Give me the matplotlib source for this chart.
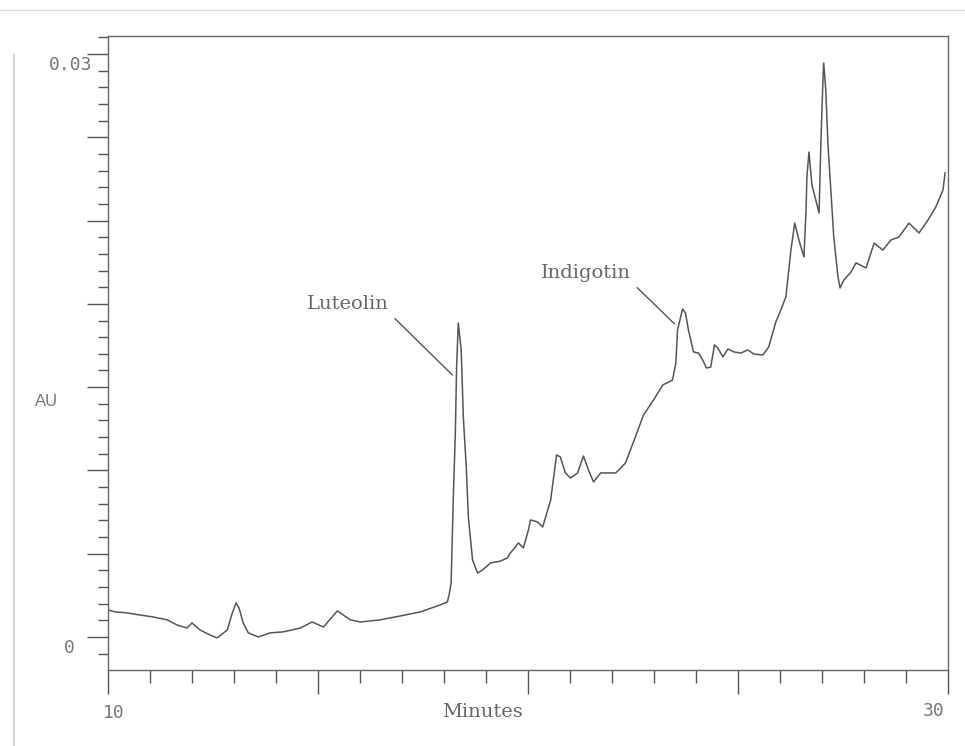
import numpy as np
import matplotlib
matplotlib.use("Agg")
import matplotlib.pyplot as plt
from matplotlib.lines import Line2D
from matplotlib.ticker import FixedLocator

# chromatogram trace (minutes, mAU)
minutes = [
    10.00, 10.17, 10.45, 10.76, 11.07, 11.41, 11.64, 11.88, 12.00, 12.19,
    12.43, 12.60, 12.84, 12.96, 13.05, 13.12, 13.22, 13.34, 13.58, 13.86,
    14.17, 14.58, 14.86, 15.13, 15.46, 15.77, 16.01, 16.48, 16.96, 17.44,
    17.91, 18.08, 18.12, 18.17, 18.22, 18.27, 18.30, 18.34, 18.41, 18.46,
    18.53, 18.58, 18.68, 18.80, 18.92, 19.11, 19.34, 19.51, 19.58, 19.70,
    19.77, 19.89, 20.01, 20.06, 20.23, 20.35, 20.54, 20.68, 20.77, 20.89,
    21.01, 21.18, 21.32, 21.44, 21.56, 21.73, 21.97, 22.09, 22.32, 22.51,
    22.75, 22.99, 23.21, 23.44, 23.52, 23.56, 23.68, 23.75, 23.82, 23.94,
    24.06, 24.16, 24.25, 24.35, 24.44, 24.52, 24.64, 24.76, 24.90, 25.07,
    25.23, 25.38, 25.59, 25.73, 25.90, 26.02, 26.14, 26.21, 26.26, 26.35,
    26.45, 26.57, 26.62, 26.64, 26.69, 26.76, 26.85, 26.93, 26.97, 27.02,
    27.04, 27.09, 27.14, 27.21, 27.28, 27.38, 27.43, 27.52, 27.69, 27.81,
    28.05, 28.24, 28.45, 28.64, 28.83, 29.07, 29.31, 29.52, 29.71, 29.88,
    29.93,
]
mau = [
    1.39, 1.29, 1.24, 1.13, 1.03, 0.88, 0.62, 0.46, 0.72, 0.36,
    0.10, -0.05, 0.36, 1.24, 1.75, 1.49, 0.72, 0.21, 0.00, 0.21,
    0.26, 0.46, 0.77, 0.51, 1.34, 0.88, 0.77, 0.88, 1.08, 1.29,
    1.65, 1.80, 2.16, 2.78, 7.05, 10.50, 13.89, 16.16, 14.77, 11.32,
    8.75, 6.17, 3.96, 3.29, 3.45, 3.81, 3.90, 4.07, 4.32, 4.63,
    4.84, 4.58, 5.51, 6.02, 5.92, 5.66, 7.05, 9.37, 9.26, 8.44,
    8.18, 8.44, 9.31, 8.59, 7.98, 8.44, 8.44, 8.44, 8.95, 10.03,
    11.42, 12.20, 12.97, 13.22, 14.10, 15.80, 16.88, 16.67, 15.80, 14.67,
    14.61, 14.25, 13.84, 13.89, 15.03, 14.87, 14.41, 14.82, 14.67, 14.61,
    14.77, 14.56, 14.51, 14.92, 16.21, 16.83, 17.50, 18.89, 19.91, 21.30,
    20.43, 19.55, 21.97, 23.67, 24.96, 23.26, 22.49, 21.82, 25.21, 28.51,
    29.54, 28.15, 25.42, 23.00, 20.58, 18.53, 17.96, 18.37, 18.78, 19.25,
    18.99, 20.27, 19.91, 20.43, 20.58, 21.30, 20.79, 21.45, 22.13, 23.00,
    23.88,
]

peak_names = ["Luteolin", "Indigotin"]
peak_points = [(18.20, 13.48), (23.49, 16.11)]   # where the leader lines touch
label_points = [(15.72, 17.14), (21.39, 18.73)]  # label centres

au = np.array(mau) / 1000.0

ink = "#555555"
fig = plt.figure(figsize=(9.65, 7.46), dpi=100)
ax = fig.add_axes([0.1119, 0.1019, 0.8705, 0.8499])

ax.plot(minutes, au, color=ink, lw=1.1)

ax.set_xlim(10, 30)
ax.set_ylim(-0.0017, 0.03093)

for side in ["left", "right", "top", "bottom"]:
    ax.spines[side].set_color("#666666")
    ax.spines[side].set_linewidth(1.0)

step = 0.03 / 7
ax.yaxis.set_major_locator(FixedLocator(np.arange(0, 8) * step))
ax.yaxis.set_minor_locator(FixedLocator(np.arange(-1, 37) * step / 5))
ax.xaxis.set_major_locator(FixedLocator(np.arange(10, 31, 5)))
ax.xaxis.set_minor_locator(FixedLocator(np.arange(10, 31, 1)))
ax.set_xticklabels([])
ax.set_yticklabels([])
ax.tick_params(axis="y", which="major", length=15, width=1, color=ink, direction="out")
ax.tick_params(axis="y", which="minor", length=7, width=1, color=ink, direction="out")
ax.tick_params(axis="x", which="major", length=17, width=1, color=ink, direction="out")
ax.tick_params(axis="x", which="minor", length=9, width=1, color=ink, direction="out")

mono = dict(family="DejaVu Sans Mono", fontsize=13, color="#777777")
ax.annotate("0.03", xy=(0, 0.03), xycoords=("axes fraction", "data"),
            xytext=(-16, -11), textcoords="offset pixels", ha="right", va="center", **mono)
ax.annotate("0", xy=(0, 0), xycoords=("axes fraction", "data"),
            xytext=(-33, -11), textcoords="offset pixels", ha="right", va="center", **mono)
ax.annotate("10", xy=(10, 0), xycoords=("data", "axes fraction"),
            xytext=(-5, -43), textcoords="offset pixels", ha="left", va="center", **mono)
ax.annotate("30", xy=(30, 0), xycoords=("data", "axes fraction"),
            xytext=(-3, -41), textcoords="offset pixels", ha="right", va="center", **mono)

serif = dict(family="DejaVu Serif", fontsize=14, color="#666666")
ax.annotate("Minutes", xy=(0.4457, 0), xycoords="axes fraction",
            xytext=(0, -42), textcoords="offset pixels", ha="center", va="center", **serif)
ax.annotate("AU", xy=(0, 0.5), xycoords="axes fraction",
            xytext=(-61, -49), textcoords="offset pixels", ha="center", va="center",
            family="Liberation Sans", fontsize=12, color="#777777")

for name, (px, py), (tx, ty) in zip(peak_names, peak_points, label_points):
    ax.annotate(name, xy=(px, py / 1000.0), xytext=(tx, ty / 1000.0),
                ha="center", va="center", **serif,
                arrowprops=dict(arrowstyle="-", color=ink, lw=1.0,
                                relpos=(1, 0), shrinkA=3, shrinkB=0))

# faint scanner edges
fig.add_artist(Line2D([14 / 965, 14 / 965], [0, 1 - 55 / 746],
                      color="#d4d4d4", lw=1.5))
fig.add_artist(Line2D([0, 1], [1 - 10 / 746, 1 - 10 / 746],
                      color="#dddddd", lw=1.0))

fig.savefig("out.png", dpi=100)
